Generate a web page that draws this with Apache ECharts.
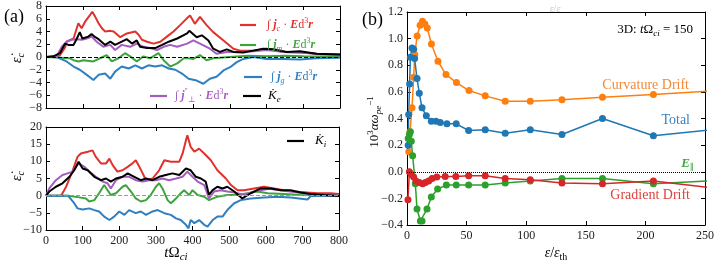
<!DOCTYPE html>
<html><head><meta charset="utf-8">
<script src="https://cdn.jsdelivr.net/npm/echarts@6/dist/echarts.min.js"></script>
<style>html,body{margin:0;padding:0;background:#fff}#c{width:718px;height:264px}</style>
</head><body><div id="c"></div>
<script>
// ---------- DATA ----------
// panel (a) top: electron energization rates vs t*Omega_ci  ([t, value])
const topJc = [[0,0],[30,0],[38,0.3],[52,1.5],[56,2.4],[75,2.9],[88,5.3],[97,4.5],[106,5.5],[120,6.6],[126,7.1],[134,6.3],[143,5.3],[152,4.5],[161,4.0],[175,4.1],[184,4.0],[202,3.1],[220,3.7],[243,4.0],[252,3.5],[261,2.7],[275,2.4],[293,2.1],[311,2.4],[329,3.2],[347,4.0],[365,5.0],[384,6.1],[392,6.5],[405,5.2],[419,6.3],[437,5.0],[455,3.9],[483,2.6],[510,1.3],[528,1.0],[564,1.0],[600,1.3],[646,0.8],[691,0.7],[736,0.5],[800,0.4]];
const topJm = [[0,0],[40,-0.1],[65,-0.2],[75,-0.5],[88,-0.7],[102,-0.5],[129,-0.7],[147,-0.2],[165,0.3],[179,-0.7],[197,-0.2],[215,0.6],[229,0.1],[247,-0.7],[265,0.1],[283,-0.2],[306,0.6],[320,-0.5],[338,-1.5],[357,-1.0],[375,-0.2],[388,-0.2],[401,-0.3],[419,0.3],[437,-0.5],[455,-0.2],[500,0],[550,0.2],[600,0.1],[650,0.2],[700,0.1],[800,0]];
const topJg = [[0,0],[29,0],[56,-0.7],[75,-1.5],[92,-2.0],[111,-2.8],[129,-3.6],[143,-2.8],[161,-2.6],[175,-3.4],[188,-2.3],[206,-1.5],[225,-1.8],[243,-1.3],[261,-1.8],[279,-1.3],[297,-1.5],[316,-1.3],[334,-1.8],[352,-2.0],[370,-2.6],[388,-3.4],[410,-3.7],[428,-4.2],[446,-3.4],[464,-3.1],[483,-2.1],[501,-1.6],[519,-0.8],[537,-0.3],[564,0],[600,-0.3],[646,-0.3],[691,-0.4],[736,-0.2],[800,-0.1]];
const topJperp = [[0,0],[29,0.1],[43,1.6],[56,2.4],[70,2.7],[84,2.8],[97,2.7],[111,2.9],[124,3.2],[138,2.4],[156,1.6],[175,1.9],[188,1.1],[206,1.9],[229,1.6],[247,2.1],[265,1.6],[283,1.4],[302,1.1],[320,1.6],[338,1.9],[357,1.6],[384,2.1],[401,2.6],[419,2.1],[446,1.3],[464,0.5],[492,0.8],[528,0.8],[564,0.9],[600,1.1],[650,0.8],[700,0.7],[750,0.4],[800,0.3]];
const topKe = [[0,0],[20,0.1],[38,0.6],[52,2.1],[61,1.9],[75,1.9],[84,2.9],[92,3.9],[99,2.9],[115,3.2],[124,3.6],[134,3.1],[143,2.8],[161,1.9],[175,2.4],[188,1.9],[202,2.3],[220,2.8],[234,2.1],[247,2.6],[256,1.6],[275,1.4],[297,1.4],[316,1.9],[334,2.4],[357,2.9],[384,3.7],[390,4.1],[410,3.1],[424,3.4],[442,2.6],[455,1.3],[473,0.8],[492,1.2],[510,0.8],[537,0.7],[564,1.0],[591,1.3],[619,1.2],[655,0.8],[691,0.9],[736,0.5],[800,0.4]];
// panel (a) bottom: ion energization rates
const botJc = [[0,0],[41,0],[55,2.6],[73,7.4],[86,11.3],[95,12.3],[100,11.8],[114,12.8],[127,13.2],[136,11.3],[150,9.4],[164,9.4],[173,10.8],[182,8.9],[195,7.0],[209,7.4],[223,8.4],[236,9.4],[245,10.3],[255,8.4],[264,6.5],[273,4.5],[291,5.0],[309,7.4],[323,10.3],[341,9.9],[364,9.9],[373,12.3],[382,16.1],[386,17.6],[395,14.2],[405,12.8],[418,13.7],[432,12.3],[450,10.3],[468,7.4],[491,5.0],[505,3.1],[523,1.6],[541,1.6],[568,2.1],[595,2.6],[623,2.1],[650,1.6],[677,1.2],[714,0.9],[741,0.7],[777,0.7],[800,0.5]];
const botJm = [[0,0],[60,0],[64,-0.1],[91,-0.5],[109,-0.8],[118,-1.7],[132,-1.3],[145,0.7],[159,3.1],[168,1.6],[177,0.2],[191,0.7],[209,2.6],[218,3.1],[232,1.2],[245,-0.8],[259,-1.7],[273,-1.3],[286,0.2],[300,2.6],[309,3.6],[318,2.1],[332,-1.3],[341,-2.2],[355,-0.8],[368,0.7],[377,1.6],[391,0.2],[400,1.6],[414,0.2],[432,-0.3],[445,-1.3],[468,-0.3],[495,0.2],[523,0.2],[577,1.2],[605,0.7],[650,0.5],[695,0.2],[741,0.1],[800,0]];
const botJg = [[0,0],[60,0],[64,-0.3],[77,-2.2],[86,-3.7],[100,-4.0],[118,-3.7],[132,-4.2],[145,-4.6],[159,-6.1],[173,-7.1],[186,-6.1],[200,-4.6],[214,-5.6],[227,-4.2],[245,-5.1],[259,-4.6],[273,-5.6],[291,-4.6],[305,-4.2],[323,-5.1],[341,-5.6],[355,-6.6],[368,-7.1],[382,-8.5],[389,-9.5],[395,-7.1],[405,-8.0],[418,-7.1],[432,-8.5],[441,-9.0],[455,-7.1],[468,-6.1],[482,-6.1],[495,-4.2],[514,-2.2],[532,-1.3],[559,-0.8],[595,-0.5],[632,-0.3],[668,-0.5],[714,-1.1],[723,-0.1],[800,0]];
const botJperp = [[0,0],[9,2.1],[27,4.5],[45,6.0],[59,6.5],[73,7.0],[89,9.4],[105,8.4],[118,7.0],[136,5.5],[155,4.1],[168,3.6],[177,2.1],[191,4.5],[209,5.5],[227,5.5],[245,4.5],[264,4.1],[282,4.5],[300,4.5],[318,5.0],[336,4.5],[355,5.0],[373,5.5],[386,7.0],[400,5.5],[414,4.1],[432,3.1],[445,-0.8],[459,1.2],[477,1.6],[495,1.2],[514,0.9],[540,0.3],[580,1.5],[610,2.0],[650,1.4],[700,0.8],[750,0.3],[800,0]];
const botKi = [[0,0],[9,1.2],[27,2.6],[45,3.6],[64,5.5],[77,7.4],[89,9.9],[100,7.9],[114,7.4],[132,5.5],[150,4.5],[164,5.0],[177,4.1],[191,5.0],[209,5.5],[223,6.5],[241,5.5],[259,4.5],[273,5.0],[291,4.5],[309,5.5],[327,6.0],[345,6.5],[364,6.0],[382,7.9],[386,8.4],[395,7.4],[409,5.5],[423,5.0],[436,4.1],[445,0.2],[455,1.6],[468,2.6],[482,2.1],[495,2.6],[514,1.2],[536,-0.8],[559,0.7],[586,2.1],[614,2.1],[641,1.6],[668,1.6],[695,0.9],[723,0.5],[759,0.2],[800,-0.1]];
// panel (b): energization rate vs epsilon/epsilon_th
const curvDrift = [[1.5,0.15],[2.5,0.3],[4.2,0.48],[5.6,0.71],[6.5,0.88],[8.5,1.02],[11,1.10],[13,1.13],[15,1.11],[17,1.08],[20.5,0.96],[26,0.83],[32.7,0.73],[41.5,0.67],[52,0.61],[65.6,0.57],[82.4,0.53],[103.4,0.53],[130,0.54],[164,0.56],[206.7,0.58],[260,0.61]];
const totalRate = [[1,0.2],[1.4,0.43],[2.2,0.66],[2.8,0.86],[4.2,0.93],[5.6,0.92],[6.4,0.85],[8.4,0.70],[10.3,0.59],[12.6,0.48],[16.2,0.42],[20.4,0.38],[24.3,0.38],[27.9,0.37],[33.5,0.36],[41.3,0.36],[51.7,0.31],[65.6,0.315],[82.4,0.29],[103.4,0.315],[130,0.28],[164,0.40],[206.7,0.27],[260,0.32]];
const eParRate = [[1,0.25],[2,0.28],[2.8,0.30],[3.6,0.23],[4.7,0.12],[7,-0.09],[8.4,-0.28],[11.2,-0.37],[12.6,-0.37],[16.8,-0.28],[20.4,-0.19],[25.7,-0.13],[33,-0.10],[41.3,-0.10],[51.7,-0.10],[65.6,-0.10],[82.4,-0.085],[103.4,-0.07],[130,-0.05],[164,-0.05],[206.7,-0.09],[260,-0.065]];
const gradDrift = [[0.8,-0.21],[2,0],[3.6,-0.02],[5.6,-0.04],[7.5,-0.07],[10.3,-0.08],[13.1,-0.09],[15.4,-0.08],[18.2,-0.07],[21,-0.05],[25,-0.04],[32,-0.035],[41,-0.035],[51.7,-0.03],[65.6,-0.03],[82.4,-0.05],[103.4,-0.06],[130,-0.085],[164,-0.09],[206.7,-0.07],[260,-0.125]];
// tick label values
const tTicks = [0,100,200,300,400,500,600,700,800];
const epsTicks = [0,50,100,150,200,250];

// ---------- STYLE ----------
const SERIF = '"Liberation Serif","DejaVu Serif",serif';
const C = {red:'#e0312d', green:'#3da33d', blue:'#2f7fc1', purple:'#a45cc0', black:'#000', orange:'#f58427'};
const CB = {red:'#d62728', green:'#2ca02c', blue:'#1f77b4', orange:'#ff7f0e'};
const minus = v => (v < 0 ? '\u2212' : '') + Math.abs(v);
const minus1 = v => (v < 0 ? '\u2212' : '') + Math.abs(v).toFixed(1);

function xAx(grid, min, max, interval, show, pos) {
  return {type:'value', gridIndex:grid, min, max, interval, position:pos,
    axisLine:{show:true, onZero:false, lineStyle:{color:'#000', width:1}},
    axisTick:{show:true, inside:true, length:4, lineStyle:{color:'#000'}},
    axisLabel:{show:show, color:'#222', fontFamily:SERIF, fontSize:12, margin:5, formatter:minus},
    splitLine:{show:false}};
}
function yAx(grid, min, max, interval, show, pos, fmt) {
  return {type:'value', gridIndex:grid, min, max, interval, position:pos,
    axisLine:{show:true, onZero:false, lineStyle:{color:'#000', width:1}},
    axisTick:{show:true, inside:true, length:4, lineStyle:{color:'#000'}},
    axisLabel:{show:show, color:'#222', fontFamily:SERIF, fontSize:12, margin:4, formatter:fmt||minus},
    splitLine:{show:false}};
}
function ln(data, color, xi, yi, w, extra) {
  return Object.assign({type:'line', data, xAxisIndex:xi, yAxisIndex:yi, showSymbol:false, symbol:'none',
    lineStyle:{color, width:w}, itemStyle:{color}, animation:false, silent:true}, extra||{});
}
function pts(data, color) {
  return {type:'line', data, xAxisIndex:4, yAxisIndex:4, symbol:'circle', symbolSize:7, showSymbol:true,
    lineStyle:{color, width:1.5}, itemStyle:{color}, animation:false, silent:true, clip:true};
}
function zeroLine(type, color) {
  return {silent:true, symbol:'none', label:{show:false}, animation:false,
    lineStyle:{type, color, width:1}, data:[{yAxis:0}]};
}

// rich text helpers (zrender uses fill for colour)
const rich = (size, color) => {
  const sm = Math.round(size*0.7);
  return {
    n:{fontFamily:SERIF, fontSize:size, fill:color, lineHeight:size+4},
    i:{fontFamily:SERIF, fontSize:size, fill:color, fontStyle:'italic', lineHeight:size+4},
    b:{fontFamily:SERIF, fontSize:size, fill:color, fontStyle:'italic', fontWeight:'bold', lineHeight:size+4},
    s:{fontFamily:SERIF, fontSize:sm, fill:color, fontStyle:'italic', verticalAlign:'bottom', lineHeight:sm},
    sn:{fontFamily:SERIF, fontSize:sm, fill:color, verticalAlign:'bottom', lineHeight:sm},
    p:{fontFamily:SERIF, fontSize:sm, fill:color, verticalAlign:'top', lineHeight:sm}
  };
};
function txt(x, y, text, size, color, align, rot) {
  const el = {type:'text', x, y, silent:true, z:100,
    style:{text, rich:rich(size, color), align:align||'left', verticalAlign:'middle', fill:color,
      font:size+'px '+SERIF}};
  if (rot) el.rotation = rot;
  return el;
}
function key(x1, x2, y, color) {
  return {type:'line', silent:true, z:100, shape:{x1, y1:y, x2, y2:y}, style:{stroke:color, lineWidth:2.2}};
}
const intJ = (sub, color, x, y) => txt(x, y, '{n|\u222B }{b|j}{s|' + sub + '}{n| \u00B7 }{b|E}{n|d}{p|3}{b|r}', 12, color);

const graphics = [
  txt(4, 17, '{n|(a)}', 18, '#000'),
  txt(362, 20, '{n|(b)}', 18, '#000'),
  // y labels panel (a)
  txt(17, 58, '{i|\u03B5\u0307}{s|c}', 14, '#000', 'center', Math.PI/2),
  txt(17, 176, '{i|\u03B5\u0307}{s|c}', 14, '#000', 'center', Math.PI/2),
  // x label panel (a)
  txt(176, 253, '{i|t}{n|\u03A9}{s|ci}', 15, '#000', 'center'),
  // legend (a) top
  key(240, 256, 25, C.red), intJ('c', C.red, 267, 25),
  key(240, 256, 45, C.green), intJ('m', C.green, 267, 45),
  key(244, 262, 77, C.blue), intJ('g', C.blue, 271, 77),
  key(150, 167, 96, C.purple),
  txt(175, 96, '{n|\u222B }{b|j}{p|\u2033}{s|\u22A5}{n| \u00B7 }{b|E}{n|d}{p|3}{b|r}', 12, C.purple),
  key(243, 261, 96, '#000'), txt(268, 96, '{i|K\u0307}{s|e}', 13, '#000'),
  // legend (a) bottom
  key(287, 304, 141, '#000'), txt(315, 141, '{i|K\u0307}{s|i}', 13, '#000'),
  // panel (b) annotations
  txt(693, 30, '{n|3D: }{i|t}{n|\u03A9}{s|ci}{n| = 150}', 13, '#000', 'right'),
  txt(689, 85, '{n|Curvature Drift}', 14, '#f08a3a', 'right'),
  txt(690, 120, '{n|Total}', 14, '#3b83c0', 'right'),
  txt(694, 164, '{b|E}{sn|\u2225}', 13, '#3da33d', 'right'),
  txt(690, 195, '{n|Gradient Drift}', 14, '#e0413d', 'right'),
  txt(375, 122, '{n|10}{p|3}{i|\u03B1\u03C9}{s|pe}{p|\u22121}', 13, '#000', 'center', Math.PI/2),
  txt(556, 253, '{i|\u03B5}{n|/}{i|\u03B5}{sn|th}', 14, '#000', 'center'),
  Object.assign(txt(555, 9, '{i|\u03B5}{n|/}{i|\u03B5}', 10, '#c8c8c8', 'center'), {z:0})
];

const option = {
  animation:false,
  backgroundColor:'#fff',
  grid:[
    {left:46, top:6, width:294, height:102},
    {left:46, top:127, width:293, height:103},
    {left:407, top:12, width:298, height:213}
  ],
  xAxis:[
    xAx(0, 0, 800, 100, false, 'bottom'),
    xAx(0, 0, 800, 100, false, 'top'),
    xAx(1, 0, 800, 100, true, 'bottom'),
    xAx(1, 0, 800, 100, false, 'top'),
    xAx(2, 0, 250, 50, true, 'bottom'),
    xAx(2, 0, 250, 50, false, 'top')
  ],
  yAxis:[
    yAx(0, -8, 8, 2, true, 'left'),
    yAx(0, -8, 8, 2, false, 'right'),
    yAx(1, -10, 20, 5, true, 'left'),
    yAx(1, -10, 20, 5, false, 'right'),
    yAx(2, -0.4, 1.2, 0.2, true, 'left', minus1),
    yAx(2, -0.4, 1.2, 0.2, false, 'right', minus1)
  ],
  series:[
    ln(topJc, C.red, 0, 0, 2, {markLine:zeroLine('dashed', '#000')}),
    ln(topJm, C.green, 0, 0, 2),
    ln(topJg, C.blue, 0, 0, 2),
    ln(topJperp, C.purple, 0, 0, 2),
    ln(topKe, C.black, 0, 0, 2),
    ln(botJc, C.red, 2, 2, 2, {markLine:zeroLine('dashed', '#999')}),
    ln(botJm, C.green, 2, 2, 2),
    ln(botJg, C.blue, 2, 2, 2),
    ln(botJperp, C.purple, 2, 2, 2),
    ln(botKi, C.black, 2, 2, 2),
    Object.assign(pts(curvDrift, CB.orange), {markLine:zeroLine('dotted', '#000')}),
    pts(totalRate, CB.blue),
    pts(eParRate, CB.green),
    pts(gradDrift, CB.red)
  ],
  graphic:graphics
};
const chart = echarts.init(document.getElementById('c'), null, {renderer:'canvas'});
chart.setOption(option);
</script>
</body></html>
